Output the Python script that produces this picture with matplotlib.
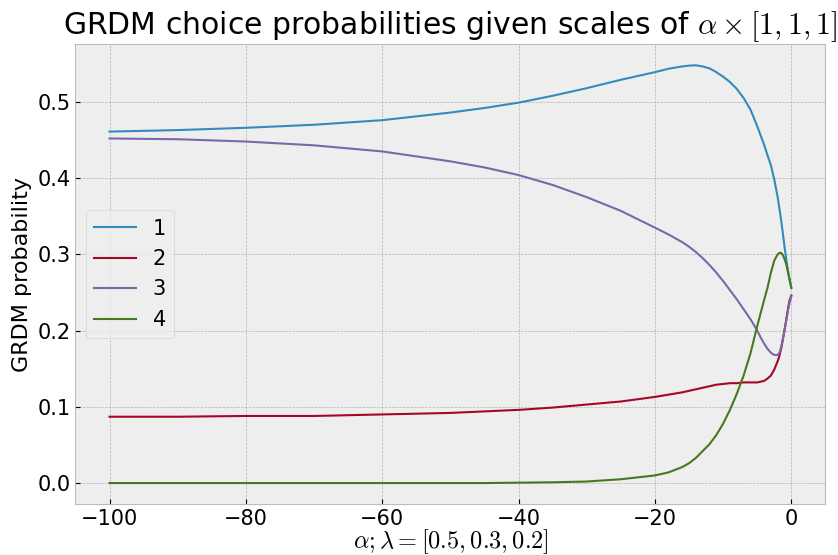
import matplotlib

matplotlib.use("Agg")
import matplotlib.pyplot as plt

plt.style.use("bmh")
plt.rcParams["mathtext.fontset"] = "cm"

# alpha values at which the choice probabilities were evaluated
alpha = [-100, -90, -80, -70, -60, -50, -45, -40, -35, -30, -25, -20, -18, -16,
         -15, -14, -13, -12, -11, -10, -9, -8, -7, -6, -5, -4.5, -4, -3.5, -3,
         -2.5, -2, -1.75, -1.5, -1.25, -1, -0.75, -0.5, -0.25, 0]

p1 = [0.461, 0.463, 0.466, 0.470, 0.476, 0.486, 0.492, 0.499, 0.508, 0.518,
      0.529, 0.539, 0.5435, 0.5465, 0.5475, 0.548, 0.5465, 0.544, 0.539, 0.533,
      0.526, 0.517, 0.505, 0.490, 0.468, 0.456, 0.444, 0.430, 0.417, 0.398,
      0.375, 0.360, 0.345, 0.328, 0.310, 0.294, 0.279, 0.267, 0.256]
p2 = [0.087, 0.087, 0.088, 0.088, 0.090, 0.092, 0.094, 0.096, 0.099, 0.103,
      0.107, 0.113, 0.116, 0.119, 0.121, 0.123, 0.125, 0.127, 0.129, 0.130,
      0.131, 0.131, 0.132, 0.132, 0.132, 0.133, 0.134, 0.137, 0.141, 0.149,
      0.160, 0.167, 0.176, 0.188, 0.201, 0.214, 0.228, 0.240, 0.246]
p3 = [0.452, 0.451, 0.448, 0.443, 0.435, 0.422, 0.414, 0.404, 0.391, 0.375,
      0.357, 0.335, 0.326, 0.316, 0.310, 0.303, 0.295, 0.286, 0.276, 0.265,
      0.253, 0.241, 0.228, 0.215, 0.200, 0.191, 0.183, 0.176, 0.171, 0.168,
      0.168, 0.171, 0.178, 0.189, 0.200, 0.213, 0.226, 0.237, 0.245]
p4 = [0.000, 0.000, 0.000, 0.000, 0.000, 0.000, 0.000, 0.0005, 0.001, 0.002,
      0.005, 0.010, 0.014, 0.021, 0.026, 0.033, 0.042, 0.051, 0.063, 0.078,
      0.096, 0.117, 0.141, 0.170, 0.206, 0.223, 0.240, 0.256, 0.276, 0.292,
      0.300, 0.302, 0.302, 0.299, 0.294, 0.287, 0.277, 0.266, 0.256]

series = [("1", p1), ("2", p2), ("3", p3), ("4", p4)]

fig, ax = plt.subplots(figsize=(8.38, 5.55), dpi=100)
fig.subplots_adjust(left=0.09, right=0.985, bottom=0.092, top=0.92)

for name, probs in series:
    ax.plot(alpha, probs, label=name, linewidth=1.5)

ax.set_title(r"GRDM choice probabilities given scales of $\alpha \times [1, 1, 1]$",
             fontsize=21.5)
ax.set_xlabel(r"$\alpha; \lambda = [0.5, 0.3, 0.2]$", fontsize=17.5, labelpad=-1)
ax.set_ylabel("GRDM probability", fontsize=16)
ax.tick_params(labelsize=15)
ax.legend(loc="center left", fontsize=15)

fig.savefig("out.png", dpi=100)
